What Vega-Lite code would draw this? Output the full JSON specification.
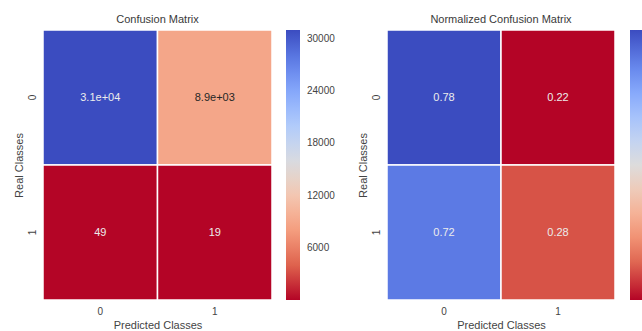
{
  "$schema": "https://vega.github.io/schema/vega-lite/v6.json",
  "padding": {"left": 13, "top": 14, "right": 0, "bottom": 2},
  "background": "white",
  "datasets": {
    "counts": [
      {"real": "0", "predicted": "0", "count": 31000, "label": "3.1e+04"},
      {"real": "0", "predicted": "1", "count": 8900, "label": "8.9e+03"},
      {"real": "1", "predicted": "0", "count": 49, "label": "49"},
      {"real": "1", "predicted": "1", "count": 19, "label": "19"}
    ],
    "norm": [
      {"real": "0", "predicted": "0", "share": 0.78, "label": "0.78"},
      {"real": "0", "predicted": "1", "share": 0.22, "label": "0.22"},
      {"real": "1", "predicted": "0", "share": 0.72, "label": "0.72"},
      {"real": "1", "predicted": "1", "share": 0.28, "label": "0.28"}
    ]
  },
  "spacing": 22,
  "resolve": {"scale": {"color": "independent"}, "legend": {"color": "independent"}},
  "hconcat": [
    {
      "title": "Confusion Matrix",
      "width": 229,
      "height": 270,
      "data": {"name": "counts"},
      "encoding": {
        "x": {"field": "predicted", "type": "ordinal", "title": "Predicted Classes",
              "scale": {"paddingInner": 0, "paddingOuter": 0},
              "axis": {"labelAngle": 0}},
        "y": {"field": "real", "type": "ordinal", "title": "Real Classes",
              "scale": {"paddingInner": 0, "paddingOuter": 0},
              "axis": {"labelAngle": -90}}
      },
      "layer": [
        {
          "mark": {"type": "rect", "stroke": "white", "strokeWidth": 1.5},
          "encoding": {
            "color": {
              "field": "count", "type": "quantitative",
              "scale": {
                "type": "linear",
                "domain": [19, 3891.625, 7764.25, 11636.875, 15509.5, 19382.125, 23254.75, 27127.375, 31000],
                "range": ["#b40426", "#dd604c", "#f49a7b", "#f5c4ac", "#dddcdc", "#b8d0f9", "#8db0fe", "#6282ea", "#3b4cc0"],
                "interpolate": "rgb"
              },
              "legend": {
                "title": null,
                "direction": "vertical",
                "gradientLength": 270,
                "gradientThickness": 14,
                "gradientStrokeWidth": 0,
                "offset": 14,
                "padding": 0,
                "values": [6000, 12000, 18000, 24000, 30000],
                "format": "d",
                "labelFontSize": 10,
                "labelColor": "#444444",
                "labelOffset": 7
              }
            }
          }
        },
        {
          "mark": {"type": "text", "fontSize": 11},
          "encoding": {
            "text": {"field": "label"},
            "color": {
              "condition": {"test": "datum.count > 4000 && datum.count < 25000", "value": "#262626"},
              "value": "#ececec"
            }
          }
        }
      ]
    },
    {
      "title": "Normalized Confusion Matrix",
      "width": 228,
      "height": 270,
      "data": {"name": "norm"},
      "encoding": {
        "x": {"field": "predicted", "type": "ordinal", "title": "Predicted Classes",
              "scale": {"paddingInner": 0, "paddingOuter": 0},
              "axis": {"labelAngle": 0}},
        "y": {"field": "real", "type": "ordinal", "title": "Real Classes",
              "scale": {"paddingInner": 0, "paddingOuter": 0},
              "axis": {"labelAngle": -90}}
      },
      "layer": [
        {
          "mark": {"type": "rect", "stroke": "white", "strokeWidth": 1.5},
          "encoding": {
            "color": {
              "field": "share", "type": "quantitative",
              "scale": {
                "type": "linear",
                "domain": [0.22, 0.29, 0.36, 0.43, 0.5, 0.57, 0.64, 0.71, 0.78],
                "range": ["#b40426", "#dd604c", "#f49a7b", "#f5c4ac", "#dddcdc", "#b8d0f9", "#8db0fe", "#6282ea", "#3b4cc0"],
                "interpolate": "rgb"
              },
              "legend": {
                "title": null,
                "direction": "vertical",
                "gradientLength": 270,
                "gradientThickness": 14,
                "gradientStrokeWidth": 0,
                "offset": 15,
                "padding": 0,
                "values": [0.3, 0.4, 0.5, 0.6, 0.7],
                "format": ".1f",
                "labelFontSize": 10,
                "labelColor": "#444444",
                "labelOffset": 7
              }
            }
          }
        },
        {
          "mark": {"type": "text", "fontSize": 11, "color": "#ececec"},
          "encoding": {
            "text": {"field": "label"}
          }
        }
      ]
    }
  ],
  "config": {
    "font": "Liberation Sans",
    "view": {"stroke": null},
    "title": {"fontSize": 11, "fontWeight": "normal", "color": "#3a3a3a", "offset": 4},
    "axis": {
      "domain": false,
      "ticks": false,
      "grid": false,
      "labelFontSize": 10,
      "labelColor": "#444444",
      "labelPadding": 6,
      "titleFontSize": 11,
      "titleFontWeight": "normal",
      "titleColor": "#444444",
      "titlePadding": 3
    }
  }
}
